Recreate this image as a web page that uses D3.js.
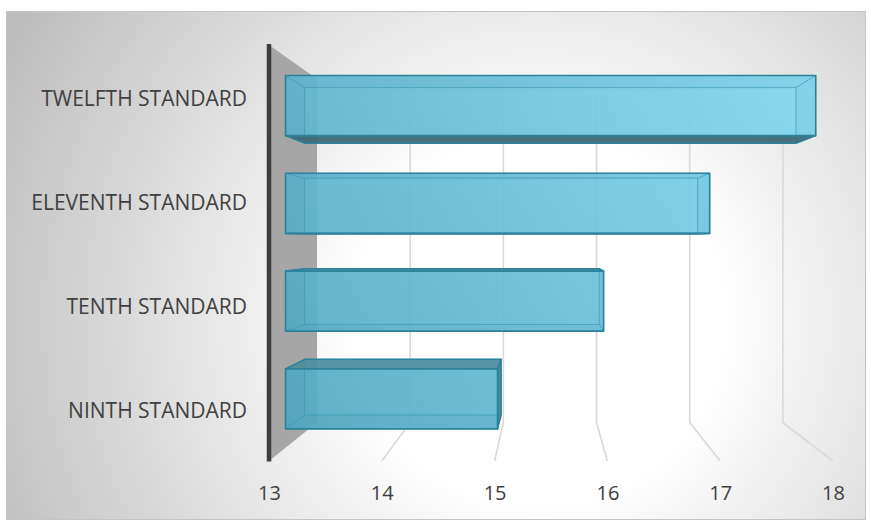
<!DOCTYPE html>
<html>
<head>
<meta charset="utf-8">
<script src="https://cdn.jsdelivr.net/npm/d3@7"></script>
<style>
  html, body { margin: 0; padding: 0; background: #ffffff; }
  svg { display: block; }
  text { font-family: "Open Sans", sans-serif; fill: #404040; }
</style>
</head>
<body>
<svg id="chart" width="871" height="525"></svg>
<script>
// Enrolment by class (bar length on a 13–18 value axis)
const categories = ["NINTH STANDARD", "TENTH STANDARD", "ELEVENTH STANDARD", "TWELFTH STANDARD"];
const values = [15, 16, 17, 18];
const tickValues = [13, 14, 15, 16, 17, 18];
const axisMin = 13;

const svg = d3.select("#chart");

// Perspective: front-plane coordinates shrink toward a vanishing point with depth
const VP = [545, 240];
const kWall = 0.826;   // back wall depth
const kFront = 0.94;   // bar front face depth
const kBack = 0.871;   // bar back face depth
const P = (X, Y, k) => [VP[0] + (X - VP[0]) * k, VP[1] + (Y - VP[1]) * k];

const x = d3.scaleLinear().domain([13, 18]).range([269, 833]);
const y = d3.scaleBand()
  .domain(categories.slice().reverse())
  .range([45, 461])
  .paddingInner(0.385)
  .paddingOuter(0.1925);

const defs = svg.append("defs");

// Chart background: soft radial grey fade
const bg = defs.append("radialGradient").attr("id", "bgGrad")
  .attr("gradientUnits", "userSpaceOnUse")
  .attr("cx", 540).attr("cy", 320).attr("r", 600);
bg.append("stop").attr("offset", 0).attr("stop-color", "#ffffff");
bg.append("stop").attr("offset", 0.3).attr("stop-color", "#ffffff");
bg.append("stop").attr("offset", 1).attr("stop-color", "#bdbdbd");

// Bar face colour: teal to light cyan
const barGrad = defs.append("linearGradient").attr("id", "barGrad")
  .attr("gradientUnits", "userSpaceOnUse")
  .attr("x1", 280).attr("y1", 430).attr("x2", 820).attr("y2", 80);
barGrad.append("stop").attr("offset", 0).attr("stop-color", "#52aac2");
barGrad.append("stop").attr("offset", 1).attr("stop-color", "#82d8f1");

svg.append("rect")
  .attr("x", 6.5).attr("y", 11.5).attr("width", 859).attr("height", 508)
  .attr("fill", "url(#bgGrad)").attr("stroke", "#c4c4c4").attr("stroke-width", 1);

const line = d3.line();

// Side wall (grey) between the front edge and the back wall
const wall = [P(x(axisMin), 45, 1), P(x(axisMin), 45, kWall), P(x(axisMin), 461, kWall), P(x(axisMin), 461, 1)];
svg.append("path").attr("d", line(wall) + "Z").attr("fill", "#a6a6a6");

// Gridlines: up the back wall, then across the floor to the front
svg.append("g").selectAll("path")
  .data(tickValues.filter(v => v > axisMin))
  .join("path")
  .attr("d", v => line([P(x(v), 45, kWall), P(x(v), 461, kWall), P(x(v), 461, 1)]))
  .attr("fill", "none")
  .attr("stroke", "#d9d9d9")
  .attr("stroke-width", 1.6);

// Front edge of the category axis
svg.append("path")
  .attr("d", line([[x(axisMin), 44], [x(axisMin), 461.5]]))
  .attr("stroke", "#3d3d3d").attr("stroke-width", 4.5).attr("fill", "none");

// 3D bars
const bars = svg.append("g");
categories.forEach((c, i) => {
  const v = values[i];
  const X0 = x(axisMin), X1 = x(v), Y0 = y(c), Y1 = y(c) + y.bandwidth();
  const f = [P(X0, Y0, kFront), P(X1, Y0, kFront), P(X1, Y1, kFront), P(X0, Y1, kFront)];
  const b = [P(X0, Y0, kBack), P(X1, Y0, kBack), P(X1, Y1, kBack), P(X0, Y1, kBack)];
  const faces = {
    top: { pts: [f[0], f[1], b[1], b[0]], vis: Y0 > VP[1], col: "#4f8e9d" },
    bottom: { pts: [f[3], f[2], b[2], b[3]], vis: Y1 < VP[1], col: "#3d6a76" },
    left: { pts: [f[0], f[3], b[3], b[0]], vis: X0 > VP[0], col: "#3f8a9c" },
    right: { pts: [f[1], f[2], b[2], b[1]], vis: X1 < VP[0], col: "#3d8698" }
  };
  const g = bars.append("g");
  // front face
  g.append("path").attr("d", line(f) + "Z")
    .attr("fill", "url(#barGrad)").attr("fill-opacity", 0.93);
  // faces seen through the translucent front
  Object.values(faces).filter(fc => !fc.vis).forEach(fc => {
    g.append("path").attr("d", line(fc.pts) + "Z")
      .attr("fill", "#1c6a80").attr("fill-opacity", 0.05)
      .attr("stroke", "#3a9ab3").attr("stroke-opacity", 0.4).attr("stroke-width", 1);
  });
  g.append("path").attr("d", line(b) + "Z")
    .attr("fill", "none").attr("stroke", "#3a9ab3").attr("stroke-opacity", 0.4).attr("stroke-width", 1);
  // visible side faces
  Object.values(faces).filter(fc => fc.vis).forEach(fc => {
    g.append("path").attr("d", line(fc.pts) + "Z")
      .attr("fill", fc.col).attr("fill-opacity", 0.95)
      .attr("stroke", "#2b8299").attr("stroke-width", 1.5).attr("stroke-linejoin", "round");
  });
  g.append("path").attr("d", line(f) + "Z")
    .attr("fill", "none").attr("stroke", "#2b8299").attr("stroke-width", 1.6)
    .attr("stroke-linejoin", "round");
});

// Category labels (front plane)
const yAxis = svg.append("g")
  .attr("transform", "translate(255,2.5)")
  .call(d3.axisLeft(y).tickSize(0).tickPadding(8));
yAxis.select(".domain").remove();
yAxis.selectAll("text")
  .attr("font-family", "Open Sans, sans-serif")
  .attr("font-size", 21).attr("fill", "#404040");

// Value labels along the front floor edge
const xAxis = svg.append("g")
  .attr("transform", "translate(0,483)")
  .call(d3.axisBottom(x).tickValues(tickValues).tickFormat(d3.format("d")).tickSize(0).tickPadding(3));
xAxis.select(".domain").remove();
xAxis.selectAll("text")
  .attr("font-family", "Open Sans, sans-serif")
  .attr("font-size", 20).attr("fill", "#404040");
</script>
</body>
</html>
